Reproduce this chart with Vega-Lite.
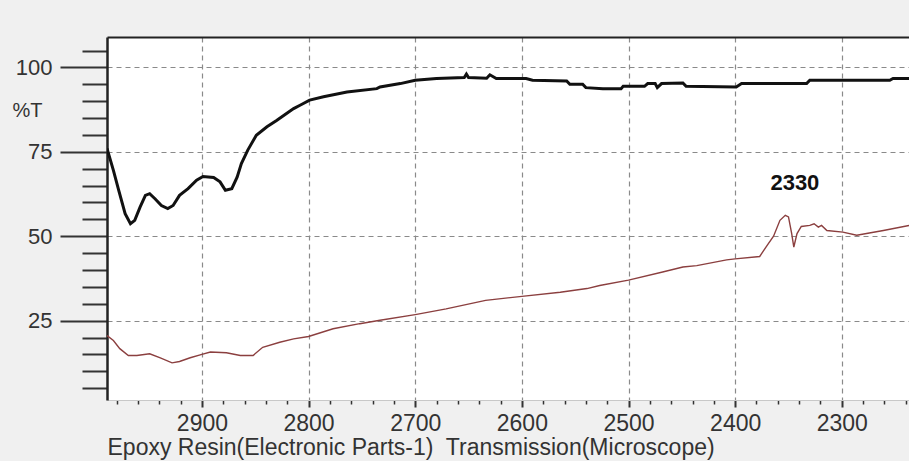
{
  "$schema": "https://vega.github.io/schema/vega-lite/v6.json",
  "width": 802,
  "height": 363,
  "autosize": {"type": "none"},
  "padding": {"left": 107, "top": 37, "right": 0, "bottom": 61},
  "background": "#f0f0f0",
  "config": {
    "view": {"fill": "white", "stroke": null},
    "font": "Liberation Sans"
  },
  "datasets": {
    "upper": [
      {"wn": 2989, "t": 76.0}, {"wn": 2983, "t": 69.5}, {"wn": 2978, "t": 63.6}, {"wn": 2972, "t": 56.7},
      {"wn": 2967, "t": 53.7}, {"wn": 2963, "t": 54.7}, {"wn": 2958, "t": 58.6}, {"wn": 2953, "t": 62.1},
      {"wn": 2949, "t": 62.6}, {"wn": 2944, "t": 61.1}, {"wn": 2938, "t": 59.1}, {"wn": 2932, "t": 58.2},
      {"wn": 2927, "t": 59.1}, {"wn": 2921, "t": 62.1}, {"wn": 2913, "t": 64.1}, {"wn": 2905, "t": 66.6},
      {"wn": 2899, "t": 67.7}, {"wn": 2889, "t": 67.4}, {"wn": 2883, "t": 66.1}, {"wn": 2878, "t": 63.6},
      {"wn": 2872, "t": 64.1}, {"wn": 2867, "t": 67.5}, {"wn": 2863, "t": 71.5}, {"wn": 2857, "t": 75.5},
      {"wn": 2849, "t": 79.9}, {"wn": 2839, "t": 82.4}, {"wn": 2830, "t": 84.3}, {"wn": 2821, "t": 86.3},
      {"wn": 2814, "t": 87.8}, {"wn": 2808, "t": 88.8}, {"wn": 2799, "t": 90.3}, {"wn": 2786, "t": 91.3},
      {"wn": 2764, "t": 92.7}, {"wn": 2736, "t": 93.7}, {"wn": 2733, "t": 94.2}, {"wn": 2714, "t": 95.2},
      {"wn": 2700, "t": 96.2}, {"wn": 2680, "t": 96.7}, {"wn": 2654, "t": 97.0}, {"wn": 2652, "t": 98.0},
      {"wn": 2650, "t": 97.0}, {"wn": 2633, "t": 96.8}, {"wn": 2630, "t": 97.8}, {"wn": 2624, "t": 96.7},
      {"wn": 2596, "t": 96.7}, {"wn": 2590, "t": 96.2}, {"wn": 2558, "t": 96.0}, {"wn": 2555, "t": 95.0},
      {"wn": 2543, "t": 95.0}, {"wn": 2540, "t": 94.0}, {"wn": 2524, "t": 93.7}, {"wn": 2507, "t": 93.7},
      {"wn": 2505, "t": 94.4}, {"wn": 2485, "t": 94.4}, {"wn": 2482, "t": 95.2}, {"wn": 2475, "t": 95.2},
      {"wn": 2473, "t": 94.0}, {"wn": 2469, "t": 95.2}, {"wn": 2449, "t": 95.4}, {"wn": 2446, "t": 94.4},
      {"wn": 2399, "t": 94.2}, {"wn": 2394, "t": 95.2}, {"wn": 2333, "t": 95.2}, {"wn": 2330, "t": 96.2},
      {"wn": 2255, "t": 96.2}, {"wn": 2252, "t": 96.7}, {"wn": 2237, "t": 96.7}
    ],
    "lower": [
      {"wn": 2989, "t": 20.6}, {"wn": 2983, "t": 19.1}, {"wn": 2977, "t": 16.7}, {"wn": 2969, "t": 14.7},
      {"wn": 2961, "t": 14.7}, {"wn": 2949, "t": 15.2}, {"wn": 2939, "t": 14.0}, {"wn": 2928, "t": 12.5},
      {"wn": 2921, "t": 12.9}, {"wn": 2911, "t": 14.0}, {"wn": 2900, "t": 15.0}, {"wn": 2892, "t": 15.7},
      {"wn": 2877, "t": 15.5}, {"wn": 2864, "t": 14.7}, {"wn": 2852, "t": 14.7}, {"wn": 2843, "t": 17.1},
      {"wn": 2827, "t": 18.6}, {"wn": 2814, "t": 19.6}, {"wn": 2800, "t": 20.3}, {"wn": 2777, "t": 22.6},
      {"wn": 2752, "t": 24.1}, {"wn": 2733, "t": 25.1}, {"wn": 2700, "t": 26.8}, {"wn": 2671, "t": 28.5},
      {"wn": 2634, "t": 31.0}, {"wn": 2600, "t": 32.2}, {"wn": 2564, "t": 33.4}, {"wn": 2539, "t": 34.5},
      {"wn": 2527, "t": 35.4}, {"wn": 2500, "t": 37.0}, {"wn": 2468, "t": 39.4}, {"wn": 2449, "t": 40.9},
      {"wn": 2436, "t": 41.3}, {"wn": 2408, "t": 43.0}, {"wn": 2400, "t": 43.3}, {"wn": 2377, "t": 44.0},
      {"wn": 2370, "t": 47.3}, {"wn": 2364, "t": 50.0}, {"wn": 2358, "t": 54.7}, {"wn": 2353, "t": 56.2},
      {"wn": 2350, "t": 55.7}, {"wn": 2347, "t": 50.8}, {"wn": 2345, "t": 46.8}, {"wn": 2342, "t": 50.8},
      {"wn": 2338, "t": 52.9}, {"wn": 2330, "t": 53.2}, {"wn": 2326, "t": 53.7}, {"wn": 2322, "t": 52.7},
      {"wn": 2319, "t": 53.2}, {"wn": 2314, "t": 51.7}, {"wn": 2299, "t": 51.2}, {"wn": 2286, "t": 50.3},
      {"wn": 2261, "t": 51.7}, {"wn": 2237, "t": 53.2}
    ],
    "notes": [
      {"wn": 2344, "t": 65.7, "label": "2330"}
    ]
  },
  "layer": [
    {
      "data": {"name": "upper"},
      "mark": {"type": "line", "color": "#111111", "strokeWidth": 3, "clip": true},
      "encoding": {
        "x": {
          "field": "wn", "type": "quantitative",
          "scale": {"domain": [2989, 2237], "nice": false, "zero": false},
          "axis": {
            "values": [2980,2960,2940,2920,2900,2880,2860,2840,2820,2800,2780,2760,2740,2720,2700,2680,2660,2640,2620,2600,2580,2560,2540,2520,2500,2480,2460,2440,2420,2400,2380,2360,2340,2320,2300,2280,2260,2240],
            "tickCount": 200,
            "format": "d",
            "labelExpr": "datum.value % 100 === 0 ? datum.label : ''",
            "labelFontSize": 23,
            "labelColor": "#333333",
            "labelPadding": 5,
            "labelFlush": false,
            "labelOverlap": false,
            "tickSize": {"condition": {"test": "datum.value % 100 === 0", "value": 7}, "value": 4},
            "tickWidth": {"condition": {"test": "datum.value % 100 === 0", "value": 2}, "value": 1.5},
            "tickColor": "#333333",
            "domainColor": "#c8c8c8",
            "domainWidth": 1,
            "grid": true,
            "gridOpacity": {"condition": {"test": "datum.value % 100 === 0", "value": 1}, "value": 0},
            "gridColor": "#8a8a8a",
            "gridDash": [5, 4],
            "gridWidth": 1.2,
            "title": "Epoxy Resin(Electronic Parts-1)\u00a0 Transmission(Microscope)",
            "titleFontSize": 23,
            "titleFontWeight": "normal",
            "titleColor": "#333333",
            "titleAnchor": "start",
            "titleAlign": "left",
            "titleBaseline": "middle",
            "titleX": 0,
            "titleY": 47
          }
        },
        "y": {
          "field": "t", "type": "quantitative",
          "scale": {"domain": [1.5, 109], "nice": false, "zero": false},
          "axis": {
            "values": [5,10,15,20,25,30,35,40,45,50,55,60,65,70,75,80,85,90,95,100,105],
            "tickCount": 200,
            "format": "d",
            "labelExpr": "datum.value % 25 === 0 ? datum.label : ''",
            "labelFontSize": 22,
            "labelColor": "#333333",
            "labelPadding": 8,
            "labelOverlap": false,
            "labelFlush": false,
            "tickSize": {"condition": {"test": "datum.value % 25 === 0", "value": 47}, "value": 25},
            "tickWidth": 2,
            "tickColor": "#333333",
            "domainColor": "#222222",
            "domainWidth": 2.5,
            "grid": true,
            "gridOpacity": {"condition": {"test": "datum.value % 25 === 0", "value": 1}, "value": 0},
            "gridColor": "#8a8a8a",
            "gridDash": [5, 4],
            "gridWidth": 1.2,
            "title": "%T",
            "titleAngle": 0,
            "titleFontSize": 20,
            "titleFontWeight": "normal",
            "titleColor": "#333333",
            "titleAlign": "center",
            "titleBaseline": "middle",
            "titleX": -80,
            "titleY": 73
          }
        }
      }
    },
    {
      "data": {"name": "lower"},
      "mark": {"type": "line", "color": "#8b3f3f", "strokeWidth": 1.4, "clip": true},
      "encoding": {
        "x": {"field": "wn", "type": "quantitative", "axis": null},
        "y": {"field": "t", "type": "quantitative"}
      }
    },
    {
      "data": {"name": "notes"},
      "mark": {"type": "text", "fontSize": 22, "fontWeight": "bold", "color": "#111111", "align": "center", "baseline": "middle"},
      "encoding": {
        "x": {
          "field": "wn", "type": "quantitative",
          "axis": {"orient": "top", "labels": false, "ticks": false, "grid": false, "domainColor": "#222222", "domainWidth": 2, "title": null}
        },
        "y": {"field": "t", "type": "quantitative"},
        "text": {"field": "label"}
      }
    }
  ],
  "resolve": {"axis": {"x": "independent"}}
}
